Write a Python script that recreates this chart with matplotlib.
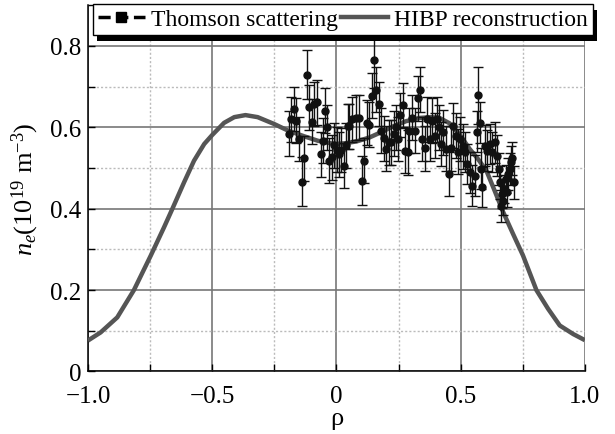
import matplotlib
matplotlib.use('Agg')
import matplotlib.pyplot as plt
from matplotlib.lines import Line2D
from matplotlib.patches import Rectangle
from matplotlib.ticker import MultipleLocator

# HIBP reconstruction curve
hibp_rho = [-1.0, -0.949, -0.882, -0.815, -0.747, -0.694, -0.66, -0.613, -0.573, -0.532,
            -0.5, -0.452, -0.411, -0.366, -0.317, -0.25, -0.195, -0.13, -0.075, -0.008,
            0.039, 0.085, 0.133, 0.18, 0.227, 0.28, 0.335, 0.38, 0.415, 0.455,
            0.5, 0.536, 0.57, 0.604, 0.637, 0.671, 0.711, 0.751, 0.805, 0.852,
            0.899, 0.953, 1.0]
hibp_ne = [0.076, 0.096, 0.133, 0.2, 0.285, 0.354, 0.4, 0.465, 0.518, 0.559,
           0.581, 0.611, 0.625, 0.630, 0.625, 0.608, 0.592, 0.578, 0.567, 0.559,
           0.561, 0.566, 0.575, 0.588, 0.602, 0.615, 0.623, 0.625, 0.623, 0.610,
           0.579, 0.547, 0.522, 0.493, 0.444, 0.392, 0.338, 0.285, 0.2, 0.154,
           0.113, 0.092, 0.077]

# Thomson scattering points
ts_rho = [-0.192, -0.183, -0.172, -0.163, -0.149, -0.138, -0.129, -0.120, -0.109, -0.098,
          -0.089, -0.079, -0.062, -0.052, -0.044, -0.038, -0.028, -0.017, -0.008, 0.001,
          0.012, 0.019, 0.029, 0.039, 0.046, 0.052, 0.063, 0.077, 0.090, 0.102,
          0.113, 0.122, 0.133, 0.142, 0.152, 0.161, 0.171, 0.181, 0.190, 0.200,
          0.210, 0.221, 0.230, 0.238, 0.247, 0.257, 0.267, 0.277, 0.288, 0.294,
          0.305, 0.317, 0.328, 0.337, 0.346, 0.355, 0.364, 0.375, 0.386, 0.395,
          0.404, 0.413, 0.422, 0.431, 0.442, 0.452, 0.460, 0.469, 0.480, 0.489,
          0.499, 0.509, 0.516, 0.526, 0.536, 0.547, 0.556, 0.566, 0.571, 0.577,
          0.583, 0.587, 0.597, 0.606, 0.617, 0.628, 0.637, 0.646, 0.654, 0.660,
          0.664, 0.665, 0.671, 0.676, 0.681, 0.687, 0.692, 0.698, 0.703, 0.708,
          0.714]
ts_ne = [0.584, 0.620, 0.645, 0.616, 0.571, 0.466, 0.524, 0.729, 0.649, 0.614,
         0.657, 0.661, 0.534, 0.567, 0.641, 0.600, 0.518, 0.526, 0.556, 0.545,
         0.534, 0.544, 0.506, 0.556, 0.602, 0.602, 0.620, 0.624, 0.624, 0.469,
         0.518, 0.611, 0.606, 0.678, 0.766, 0.692, 0.657, 0.592, 0.573, 0.547,
         0.563, 0.563, 0.584, 0.600, 0.571, 0.630, 0.655, 0.543, 0.539, 0.592,
         0.624, 0.592, 0.671, 0.692, 0.571, 0.548, 0.620, 0.571, 0.616, 0.579,
         0.620, 0.600, 0.559, 0.588, 0.547, 0.485, 0.548, 0.604, 0.579, 0.540,
         0.571, 0.553, 0.539, 0.510, 0.489, 0.457, 0.481, 0.589, 0.679, 0.611,
         0.498, 0.453, 0.555, 0.543, 0.559, 0.539, 0.563, 0.530, 0.498, 0.465,
         0.407, 0.436, 0.420, 0.448, 0.473, 0.440, 0.485, 0.498, 0.514, 0.524,
         0.465]
ts_err = [0.055, 0.055, 0.055, 0.055, 0.055, 0.06, 0.055, 0.06, 0.055, 0.055,
          0.055, 0.055, 0.055, 0.055, 0.055, 0.055, 0.055, 0.055, 0.055, 0.055,
          0.055, 0.055, 0.055, 0.055, 0.055, 0.055, 0.055, 0.055, 0.055, 0.06,
          0.055, 0.055, 0.055, 0.055, 0.07, 0.055, 0.055, 0.055, 0.055, 0.055,
          0.055, 0.055, 0.055, 0.055, 0.055, 0.055, 0.055, 0.055, 0.055, 0.055,
          0.055, 0.055, 0.055, 0.055, 0.055, 0.055, 0.055, 0.055, 0.055, 0.055,
          0.055, 0.055, 0.055, 0.055, 0.055, 0.055, 0.055, 0.055, 0.055, 0.055,
          0.055, 0.055, 0.05, 0.05, 0.05, 0.05, 0.05, 0.05, 0.07, 0.05,
          0.05, 0.05, 0.05, 0.05, 0.05, 0.05, 0.05, 0.05, 0.04, 0.04,
          0.04, 0.035, 0.035, 0.035, 0.035, 0.035, 0.04, 0.04, 0.04, 0.04,
          0.04]

x_ticks = [-1.0, -0.5, 0, 0.5, 1.0]
x_ticklabels = ['\u22121.0', '\u22120.5', '0', '0.5', '1.0']
y_ticks = [0, 0.2, 0.4, 0.6, 0.8]
y_ticklabels = ['0', '0.2', '0.4', '0.6', '0.8']

plt.rcParams['font.family'] = 'Liberation Serif'
plt.rcParams['mathtext.fontset'] = 'custom'
plt.rcParams['mathtext.rm'] = 'Liberation Serif'
plt.rcParams['mathtext.it'] = 'Liberation Serif:italic'

fig = plt.figure(figsize=(6.15, 4.35), dpi=100)
ax = fig.add_axes([0.143, 0.1437, 0.808, 0.842])

ax.plot(hibp_rho, hibp_ne, color='#555555', lw=3.2, zorder=3,
        solid_joinstyle='round', solid_capstyle='butt')
ax.errorbar(ts_rho, ts_ne, yerr=ts_err, fmt='o', color='#111111', ms=5,
            ecolor='#111111', elinewidth=1, capsize=3.5, capthick=1, zorder=4)

ax.set_xlim(-1, 1)
ax.set_ylim(0, 0.9)
ax.set_xticks(x_ticks)
ax.set_xticklabels(x_ticklabels)
ax.set_yticks(y_ticks)
ax.set_yticklabels(y_ticklabels)
ax.xaxis.set_minor_locator(MultipleLocator(0.25))
ax.yaxis.set_minor_locator(MultipleLocator(0.1))
ax.tick_params(which='both', direction='in', labelsize=18, length=5, width=1)
ax.tick_params(axis='x', pad=10)
ax.tick_params(axis='y', pad=5)
ax.grid(which='major', color='#777777', lw=1.2, ls='-')
ax.grid(which='minor', color='#bbbbbb', lw=1, ls=(0, (1.5, 1.5)))
ax.set_axisbelow(True)
for s in ['top', 'right']:
    ax.spines[s].set_visible(False)
for s in ['left', 'bottom']:
    ax.spines[s].set_linewidth(1.1)

ax.set_xlabel('\u03c1', fontsize=19, labelpad=0)
ax.set_ylabel(r'$n_e$(10$^{19}$ m$^{-3}$)', fontsize=19, labelpad=6)

handles = [Line2D([], [], color='black', ls=(0, (3.5, 1.6)), lw=2.5, marker='s', ms=7),
           Line2D([], [], color='#555555', lw=3.2)]
leg = fig.legend(handles, ['Thomson scattering', 'HIBP reconstruction'], ncol=2,
                 loc='upper left', bbox_to_anchor=(0.151, 0.989), fontsize=17,
                 frameon=True, fancybox=False, edgecolor='black', framealpha=1,
                 borderpad=0.2, handlelength=2.0, handletextpad=0.25,
                 columnspacing=0.15, borderaxespad=0)
leg.get_frame().set_linewidth(1)

fig.canvas.draw()
bb = leg.get_window_extent()
fw, fh = fig.bbox.width, fig.bbox.height
shadow = Rectangle(((bb.x0 + 4) / fw, (bb.y0 - 6) / fh), bb.width / fw, bb.height / fh,
                   transform=fig.transFigure, facecolor='black', edgecolor='none',
                   zorder=leg.get_zorder() - 0.1)
fig.add_artist(shadow)

fig.savefig('out.png', dpi=100)
